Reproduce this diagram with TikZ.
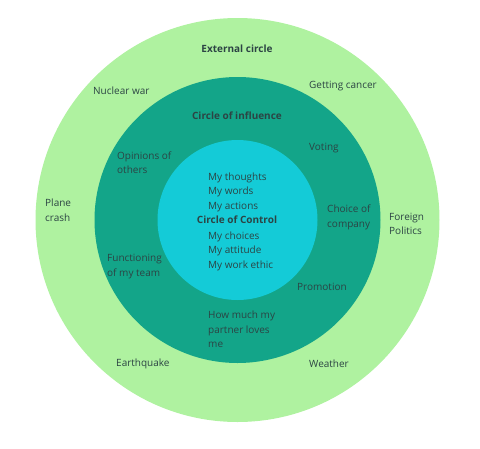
\documentclass[tikz,border=0pt]{standalone}
\usepackage{fontspec}
\setmainfont{Open Sans}
\definecolor{vertclair}{HTML}{AFF2A0}
\definecolor{vertfonce}{HTML}{13A589}
\definecolor{cyan}{HTML}{14CBD7}
\definecolor{texte}{HTML}{2C4444}
\begin{document}
\begin{tikzpicture}[x=1pt,y=-1pt]
	% Styles
	\tikzstyle{cercle}=[draw=none]
	\tikzstyle{etiquette}=[inner sep=0pt,text=texte,align=left,font=\fontsize{10}{14.5}\selectfont]
	\tikzstyle{titre}=[etiquette,font=\fontsize{10}{14.5}\selectfont\bfseries]
	% Dimensions
	\def\CentreX{237.5}
	\def\CentreY{220}
	\def\RayonA{202}
	\def\RayonB{143}
	\def\RayonC{80}
	\useasboundingbox (0,0) rectangle (480,448);
	% Cercles
	\fill[cercle,vertclair] (\CentreX,\CentreY) circle (\RayonA);
	\fill[cercle,vertfonce] (\CentreX,\CentreY) circle (\RayonB);
	\fill[cercle,cyan] (\CentreX,\CentreY) circle (\RayonC);
	% Cercle externe
	\node[titre] (externe) at (237,49) {External circle};
	\node[etiquette,anchor=west] (guerre) at (93,91) {Nuclear war};
	\node[etiquette,anchor=west] (cancer) at (309,86) {Getting cancer};
	\node[etiquette,anchor=west] (avion) at (45,210) {Plane\\crash};
	\node[etiquette,anchor=west] (politique) at (389,224) {Foreign\\Politics};
	\node[etiquette,anchor=west] (seisme) at (116,364) {Earthquake};
	\node[etiquette,anchor=west] (meteo) at (309,364) {Weather};
	% Cercle d'influence
	\node[titre] (influence) at (237,116) {Circle of influence};
	\node[etiquette,anchor=west] (opinions) at (117,162.5) {Opinions of\\others};
	\node[etiquette,anchor=west] (vote) at (309,148) {Voting};
	\node[etiquette,anchor=west] (compagnie) at (327,217.5) {Choice of\\company};
	\node[etiquette,anchor=west] (equipe) at (107,266.5) {Functioning\\of my team};
	\node[etiquette,anchor=west] (promotion) at (297,287) {Promotion};
	\node[etiquette,anchor=west] (partenaire) at (208,329.5) {How much my\\partner loves\\me};
	% Cercle de controle
	\node[etiquette,anchor=west] (pensees) at (208,192) {My thoughts\\My words\\My actions};
	\node[titre] (controle) at (237,220) {Circle of Control};
	\node[etiquette,anchor=west] (choix) at (208,251) {My choices\\My attitude\\My work ethic};
\end{tikzpicture}
\end{document}
